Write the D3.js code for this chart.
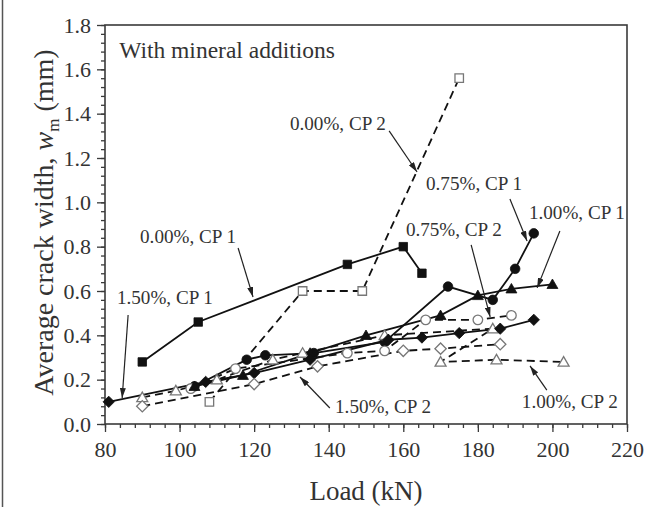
<!DOCTYPE html>
<html>
<head>
<meta charset="utf-8">
<script src="https://cdn.jsdelivr.net/npm/d3@7"></script>
<style>
  html, body { margin: 0; padding: 0; background: #fff; }
  svg { display: block; }
  text { font-family: "Liberation Serif", "DejaVu Serif", serif; fill: #333; }
</style>
</head>
<body>
<svg id="chart" width="655" height="507"></svg>
<script>
// ---------- data (Load kN, crack width mm) ----------
const xTicks = [80, 100, 120, 140, 160, 180, 200, 220];
const yTicks = [0.0, 0.2, 0.4, 0.6, 0.8, 1.0, 1.2, 1.4, 1.6, 1.8];

const s000cp1 = [[90,0.28],[105,0.46],[145,0.72],[160,0.80],[165,0.68]];
const s000cp2 = [[108,0.10],[133,0.60],[149,0.60],[175,1.56]];
const s075cp1 = [[104,0.17],[118,0.29],[123,0.31],[136,0.32],[155,0.37],[172,0.62],[184,0.56],[190,0.70],[195,0.86]];
const s075cp2 = [[103,0.16],[115,0.25],[145,0.32],[155,0.33],[166,0.47],[180,0.47],[189,0.49]];
const s100cp1 = [[104,0.17],[117,0.22],[135,0.32],[150,0.40],[170,0.49],[180,0.58],[189,0.61],[200,0.63]];
const s100cp2 = [[90,0.12],[99,0.15],[110,0.20],[125,0.29],[133,0.32],[155,0.40],[184,0.43],[170,0.28],[185,0.29],[203,0.28]];
const s150cp1 = [[81,0.10],[107,0.19],[120,0.23],[135,0.29],[156,0.38],[165,0.39],[175,0.41],[186,0.43],[195,0.47]];
const s150cp2 = [[90,0.08],[120,0.18],[137,0.26],[160,0.33],[170,0.34],[186,0.36]];

const seriesNames = ["0.00%, CP 1","0.00%, CP 2","0.75%, CP 1","0.75%, CP 2","1.00%, CP 1","1.00%, CP 2","1.50%, CP 1","1.50%, CP 2"];
const seriesData  = [s000cp1, s000cp2, s075cp1, s075cp2, s100cp1, s100cp2, s150cp1, s150cp2];
const seriesShape = ["square","square","circle","circle","triangle","triangle","diamond","diamond"];
const seriesFilled = [true,false,true,false,true,false,true,false];

// annotation labels: [text, load, width] (baseline start) ; arrows: [x1,y1,x2,y2] in data units
const labelTexts = ["0.00%, CP 2","0.00%, CP 1","1.50%, CP 1","0.75%, CP 1","1.00%, CP 1","0.75%, CP 2","1.50%, CP 2","1.00%, CP 2"];
const labelPos   = [[129.6,1.326],[89.4,0.817],[83.2,0.541],[166.1,1.056],[193.7,0.925],[160.7,0.848],[141.7,0.050],[191.8,0.072]];
const arrowPos   = [[156.2,1.322,163.7,1.137],[115.7,0.794,119.7,0.573],[86.2,0.492,84.6,0.117],[188.6,1.015,193.2,0.826],
                    [202.0,0.871,195.9,0.614],[178.2,0.808,183.3,0.483],[140.3,0.072,132.3,0.212],[198.5,0.153,194.0,0.262]];
const noteText = "With mineral additions";
const notePos = [83.8, 1.651];

// ---------- layout ----------
const svg = d3.select("#chart");
const L = 105, R = 627, T = 25, B = 424;
const x = d3.scaleLinear().domain([80, 220]).range([L, R]);
const y = d3.scaleLinear().domain([0, 1.8]).range([B, T]);

// left edge artifact line
svg.append("line").attr("x1", 2.5).attr("x2", 2.5).attr("y1", 0).attr("y2", 507)
  .attr("stroke", "#555").attr("stroke-width", 1.5);

// axes
const frameColor = "#3a3a3a";
const xMinor = d3.range(80, 221, 4);
const yMinor = d3.range(0, 1.801, 0.04);

const gx = svg.append("g").attr("transform", `translate(0,${B})`);
gx.call(d3.axisBottom(x).tickValues(xMinor).tickSize(4).tickFormat(""));
gx.append("g").call(d3.axisBottom(x).tickValues(xTicks).tickSize(8).tickPadding(8).tickFormat(d3.format("d")));
gx.selectAll("path.domain").remove();
gx.selectAll("line").attr("stroke", frameColor).attr("stroke-width", 1.3);
gx.selectAll("text").attr("font-size", 22).attr("fill", "#333").attr("font-family", "Liberation Serif").attr("dy", "0.76em");

const gy = svg.append("g").attr("transform", `translate(${L},0)`);
gy.call(d3.axisLeft(y).tickValues(yMinor).tickSize(4).tickFormat(""));
gy.append("g").call(d3.axisLeft(y).tickValues(yTicks).tickSize(8).tickPadding(6).tickFormat(d3.format(".1f")));
gy.selectAll("path.domain").remove();
gy.selectAll("line").attr("stroke", frameColor).attr("stroke-width", 1.3);
gy.selectAll("text").attr("font-size", 22).attr("fill", "#333").attr("font-family", "Liberation Serif");

// frame
svg.append("rect").attr("x", L).attr("y", T).attr("width", R - L).attr("height", B - T)
  .attr("fill", "none").attr("stroke", frameColor).attr("stroke-width", 1.6);

// axis titles
svg.append("text").attr("x", (L + R) / 2).attr("y", 500).attr("text-anchor", "middle")
  .attr("font-size", 27).text("Load (kN)");
const yt = svg.append("text").attr("transform", `translate(53,${(T + B) / 2 - 2}) rotate(-90)`)
  .attr("text-anchor", "middle").attr("font-size", 28);
yt.append("tspan").text("Average crack width, ");
yt.append("tspan").attr("font-style", "italic").text("w");
yt.append("tspan").attr("font-size", 17).attr("dy", 6).text("m");
yt.append("tspan").attr("dy", -6).text(" (mm)");

// series lines
const line = d3.line().x(d => x(d[0])).y(d => y(d[1]));
seriesData.forEach((data, i) => {
  svg.append("path").datum(data).attr("d", line)
    .attr("fill", "none").attr("stroke", "#111").attr("stroke-width", 1.8)
    .attr("stroke-dasharray", seriesFilled[i] ? null : "8,5");
});

// markers
const symbolFor = {
  square: d3.symbol().type(d3.symbolSquare).size(72),
  circle: d3.symbol().type(d3.symbolCircle).size(72),
  triangle: d3.symbol().type(d3.symbolTriangle).size(52),
  diamond: d3.symbol().type(d3.symbolSquare).size(64)
};
seriesData.forEach((data, i) => {
  const shape = seriesShape[i];
  svg.append("g").selectAll("path").data(data).join("path")
    .attr("d", symbolFor[shape]())
    .attr("transform", d => `translate(${x(d[0])},${y(d[1])})` + (shape === "diamond" ? " rotate(45)" : "") + (shape === "triangle" ? " translate(0,1)" : ""))
    .attr("fill", seriesFilled[i] ? "#111" : "#fff")
    .attr("stroke", seriesFilled[i] ? "#111" : "#777")
    .attr("stroke-width", seriesFilled[i] ? 0.8 : 1.3);
});

// arrows
svg.append("defs").append("marker").attr("id", "ah")
  .attr("viewBox", "0 0 10 6").attr("refX", 10).attr("refY", 3)
  .attr("markerWidth", 10).attr("markerHeight", 6).attr("markerUnits", "userSpaceOnUse")
  .attr("orient", "auto")
  .append("path").attr("d", "M0,0 L10,3 L0,6 Z").attr("fill", "#222");
arrowPos.forEach(a => {
  svg.append("line").attr("x1", x(a[0])).attr("y1", y(a[1])).attr("x2", x(a[2])).attr("y2", y(a[3]))
    .attr("stroke", "#222").attr("stroke-width", 1.2).attr("marker-end", "url(#ah)");
});

// labels
labelTexts.forEach((t, i) => {
  svg.append("text").attr("x", x(labelPos[i][0])).attr("y", y(labelPos[i][1]))
    .attr("font-size", 18).attr("textLength", 96).attr("lengthAdjust", "spacingAndGlyphs").text(t);
});
svg.append("text").attr("x", x(notePos[0])).attr("y", y(notePos[1]))
  .attr("font-size", 23.5).text(noteText);
</script>
</body>
</html>
